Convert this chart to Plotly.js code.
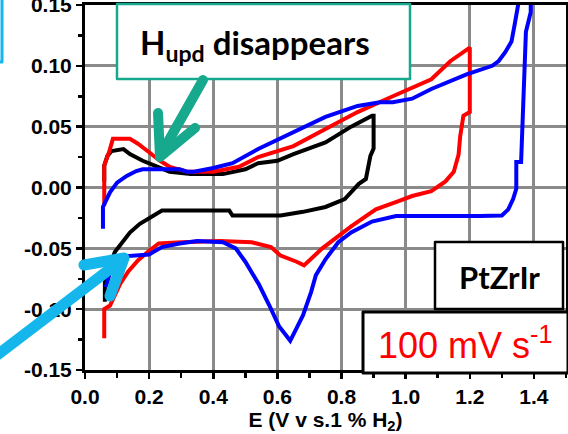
<!DOCTYPE html>
<html>
<head>
<meta charset="utf-8">
<script src="https://cdn.plot.ly/plotly-3.0.1.min.js"></script>
<style>html,body{margin:0;padding:0;background:#fff;}#chart{width:568px;height:434px;}</style>
</head>
<body>
<div id="chart"></div>
<script>
// ---- data ----
const blackE = [0.06,0.06,0.07,0.083,0.12,0.14,0.18,0.22,0.264,0.33,0.43,0.50,0.54,0.60,0.65,0.75,0.83,0.895,0.90,0.90,0.89,0.876,0.854,0.81,0.75,0.68,0.61,0.46,0.45,0.24,0.21,0.17,0.14,0.115,0.093,0.078,0.062,0.062];
const blackI = [0.005,0.018,0.026,0.030,0.0316,0.0275,0.022,0.018,0.013,0.011,0.011,0.015,0.020,0.022,0.0275,0.037,0.050,0.059,0.059,0.032,0.026,0.007,0.003,-0.0095,-0.016,-0.020,-0.023,-0.023,-0.019,-0.019,-0.024,-0.030,-0.037,-0.045,-0.053,-0.064,-0.078,-0.094];

const redE = [0.06,0.06,0.075,0.087,0.14,0.165,0.20,0.233,0.264,0.32,0.40,0.48,0.54,0.65,0.75,0.85,0.96,1.03,1.08,1.14,1.19,1.20,
              1.20,1.18,1.17,1.165,1.15,1.124,1.08,1.02,0.98,0.907,0.83,0.78,0.74,0.683,0.66,0.61,0.58,0.52,0.42,0.30,0.23,0.20,0.165,0.135,0.11,0.087,0.078,0.06,0.06];
const redI = [-0.015,0.018,0.029,0.040,0.040,0.036,0.029,0.022,0.017,0.013,0.013,0.017,0.025,0.034,0.048,0.062,0.075,0.083,0.089,0.104,0.114,0.115,
              0.062,0.059,0.042,0.027,0.013,0.005,-0.003,-0.007,-0.011,-0.018,-0.032,-0.042,-0.050,-0.064,-0.061,-0.056,-0.049,-0.045,-0.044,-0.045,-0.046,-0.052,-0.060,-0.069,-0.079,-0.092,-0.097,-0.100,-0.124];

const blueE = [0.056,0.056,0.078,0.10,0.13,0.16,0.18,0.295,0.317,0.34,0.40,0.46,0.54,0.65,0.75,0.85,0.92,0.96,1.02,1.08,1.19,1.27,1.29,1.31,1.33,1.34,1.35,1.36,1.39,
               1.39,1.39,1.375,1.365,1.36,1.345,1.345,1.335,1.32,1.30,1.27,1.23,0.97,0.895,0.83,0.79,0.75,0.72,0.705,0.68,0.64,0.605,0.575,0.543,0.50,0.47,0.43,0.35,0.295,0.24,0.20,0.14,0.10,0.08,0.065];
const blueI = [-0.034,-0.016,-0.004,0.004,0.0095,0.0135,0.015,0.015,0.013,0.013,0.016,0.020,0.0316,0.045,0.058,0.067,0.070,0.070,0.073,0.081,0.093,0.100,0.104,0.111,0.120,0.134,0.149,0.175,0.185,
               0.16,0.144,0.128,0.062,0.021,0.021,-0.001,-0.0095,-0.018,-0.023,-0.0235,-0.0235,-0.0235,-0.028,-0.037,-0.045,-0.059,-0.072,-0.086,-0.105,-0.126,-0.114,-0.097,-0.080,-0.061,-0.050,-0.045,-0.044,-0.046,-0.049,-0.055,-0.056,-0.057,-0.068,-0.082];

const xTickVals = [0,0.2,0.4,0.6,0.8,1.0,1.2,1.4];
const xTickText = ['0.0','0.2','0.4','0.6','0.8','1.0','1.2','1.4'];
const yTickVals = [-0.15,-0.10,-0.05,0,0.05,0.10,0.15];
const yTickText = ['-0.15','-0.10','-0.05','0.00','0.05','0.10','0.15'];

// ---- layout helpers (pixel -> paper) ----
const L = 85, R = 566, T = 5, B = 370;
const PX = p => (p - L) / (R - L);
const PY = p => (B - p) / (B - T);
const P = (x, y) => PX(x).toFixed(4) + ',' + PY(y).toFixed(4);

const TEAL = '#16a98d';
const CYAN = '#14b6ec';
const tickFont = {family: 'Liberation Sans, Arial, sans-serif', size: 21, color: '#000', weight: 'bold'};

const lw = 4;
const traces = [
  {x: blackE, y: blackI, mode: 'lines', line: {color: '#000000', width: lw}, hoverinfo: 'skip'},
  {x: redE, y: redI, mode: 'lines', line: {color: '#ff0000', width: lw}, hoverinfo: 'skip'},
  {x: blueE, y: blueI, mode: 'lines', line: {color: '#0000ff', width: lw}, hoverinfo: 'skip'}
];

const layout = {
  width: 568, height: 434,
  margin: {l: L, r: 568 - R, t: T, b: 434 - B, pad: 0},
  paper_bgcolor: '#fff', plot_bgcolor: '#fff',
  showlegend: false,
  xaxis: {
    range: [0, 1.5], tickmode: 'array', tickvals: xTickVals, ticktext: xTickText,
    showgrid: true, gridcolor: '#8a8a8a', gridwidth: 3, zeroline: false,
    showline: true, linecolor: '#000', linewidth: 3, mirror: true,
    ticks: 'outside', ticklen: 6, tickwidth: 2.5, tickcolor: '#000',
    minor: {dtick: 0.1, tick0: 0, ticks: 'outside', ticklen: 5, tickwidth: 2.5, tickcolor: '#000', showgrid: false},
    tickfont: tickFont, ticklabeloverflow: 'allow',
    title: {text: 'E (V v s.1 % H<sub>2</sub>)', font: {family: 'Liberation Sans, Arial, sans-serif', size: 21, color: '#000', weight: 'bold'}, standoff: 9}
  },
  yaxis: {
    range: [-0.15, 0.15], tickmode: 'array', tickvals: yTickVals, ticktext: yTickText,
    showgrid: true, gridcolor: '#8a8a8a', gridwidth: 3, zeroline: false,
    showline: true, linecolor: '#000', linewidth: 3, mirror: true,
    ticks: 'outside', ticklen: 6, tickwidth: 2.5, tickcolor: '#000',
    minor: {dtick: 0.025, tick0: 0, ticks: 'outside', ticklen: 4, tickwidth: 2.5, tickcolor: '#000', showgrid: false},
    tickfont: tickFont, ticklabeloverflow: 'allow'
  },
  shapes: [
    // partial cyan box at far left
    {type: 'rect', xref: 'paper', yref: 'paper', x0: PX(-20), x1: PX(2), y0: PY(62), y1: PY(-20), line: {color: CYAN, width: 3}, fillcolor: 'rgba(0,0,0,0)', layer: 'above'},
    // H_upd box
    {type: 'rect', xref: 'paper', yref: 'paper', x0: PX(117), x1: PX(410), y0: PY(79), y1: PY(4), line: {color: TEAL, width: 2.5}, fillcolor: '#ffffff', layer: 'above'},
    // teal arrow
    {type: 'path', xref: 'paper', yref: 'paper', path: 'M' + P(203, 80) + 'L' + P(160, 156), line: {color: TEAL, width: 10}, layer: 'above'},
    {type: 'path', xref: 'paper', yref: 'paper', path: 'M' + P(158, 113) + 'L' + P(160, 157) + 'L' + P(195, 128), line: {color: TEAL, width: 10}, layer: 'above'},
    // cyan arrow
    {type: 'path', xref: 'paper', yref: 'paper', path: 'M' + P(-8, 359) + 'L' + P(122, 260), line: {color: CYAN, width: 11}, layer: 'above'},
    {type: 'path', xref: 'paper', yref: 'paper', path: 'M' + P(84, 265) + 'L' + P(124, 258) + 'L' + P(110, 296), line: {color: CYAN, width: 11}, layer: 'above'},
    // PtZrIr box
    {type: 'rect', xref: 'paper', yref: 'paper', x0: PX(435), x1: PX(563), y0: PY(309), y1: PY(242), line: {color: '#000', width: 2.5}, fillcolor: '#ffffff', layer: 'above'},
    // scan-rate box
    {type: 'rect', xref: 'paper', yref: 'paper', x0: PX(363), x1: PX(568), y0: PY(373), y1: PY(312), line: {color: '#000', width: 3}, fillcolor: '#ffffff', layer: 'above'}
  ],
  annotations: [
    {xref: 'paper', yref: 'paper', x: PX(255), y: PY(44), xanchor: 'center', yanchor: 'middle', showarrow: false,
     text: 'H<sub>upd</sub> disappears', font: {family: 'Lato, Open Sans, sans-serif', size: 33, color: '#000', weight: 'bold'}},
    {xref: 'paper', yref: 'paper', x: PX(499), y: PY(277), xanchor: 'center', yanchor: 'middle', showarrow: false,
     text: 'PtZrIr', font: {family: 'Lato, Open Sans, sans-serif', size: 31, color: '#000', weight: 'bold'}},
    {xref: 'paper', yref: 'paper', x: PX(465), y: PY(343), xanchor: 'center', yanchor: 'middle', showarrow: false,
     text: '100 mV s<sup>-1</sup>', font: {family: 'Liberation Sans, Arial, sans-serif', size: 36, color: '#ff0000'}}
  ]
};

Plotly.newPlot('chart', traces, layout, {staticPlot: true, displayModeBar: false}).then(() => {
  document.querySelectorAll('.shapelayer path').forEach(p => {
    p.style.strokeLinecap = 'round';
    p.style.strokeLinejoin = 'round';
  });
});
</script>
</body>
</html>
